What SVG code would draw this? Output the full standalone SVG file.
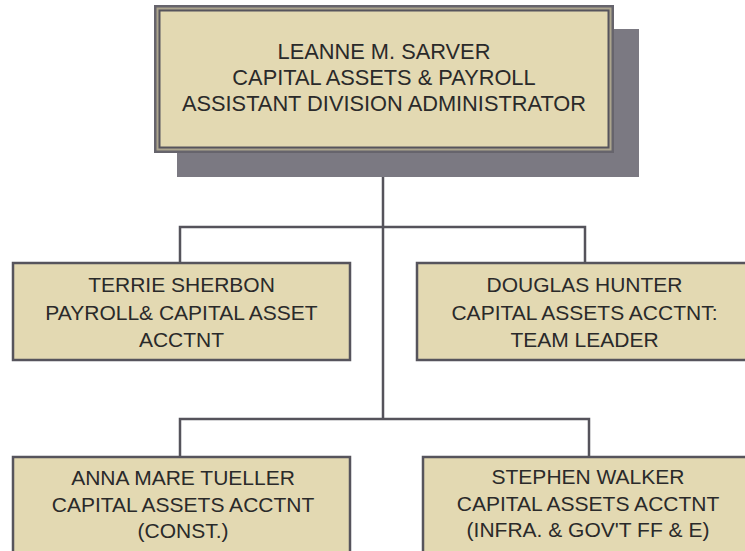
<svg xmlns="http://www.w3.org/2000/svg" width="745" height="551" viewBox="0 0 745 551">
<style>
.box{fill:#e3d9b2;stroke:#56545c;stroke-width:2.5}
.t{font-family:"Liberation Sans",Arial,sans-serif;font-size:21px;fill:#2a2a2a;text-anchor:middle}
.tt{font-size:21.8px}
.c{fill:none;stroke:#55535b;stroke-width:2.5}
</style>
<rect width="745" height="551" fill="#ffffff"/>
<g id="connectors">
<path class="c" d="M383 153V419"/>
<path class="c" d="M180 262V227H585V262"/>
<path class="c" d="M180 456V419H589V456"/>
</g>
<g id="sarver">
<rect x="177" y="29" width="462" height="148" fill="#7b7982"/>
<rect x="155.25" y="6.25" width="457.5" height="145.5" fill="#aca58e" stroke="#66646c" stroke-width="2.5"/>
<rect x="159.5" y="10.5" width="449" height="137" fill="#e3d9b2" stroke="#56545c" stroke-width="2"/>
<text class="t tt" x="384" y="59">LEANNE M. SARVER</text>
<text class="t tt" x="384" y="85">CAPITAL ASSETS &amp; PAYROLL</text>
<text class="t tt" x="384" y="110.5">ASSISTANT DIVISION ADMINISTRATOR</text>
</g>
<g id="sherbon">
<rect class="box" x="13" y="263" width="337" height="97"/>
<text class="t" x="181.5" y="291.5">TERRIE SHERBON</text>
<text class="t" x="181.5" y="319.5">PAYROLL&amp; CAPITAL ASSET</text>
<text class="t" x="181.5" y="346.5">ACCTNT</text>
</g>
<g id="hunter">
<rect class="box" x="417" y="263" width="340" height="97"/>
<text class="t" x="584.5" y="291.5">DOUGLAS HUNTER</text>
<text class="t" x="584.5" y="319.5">CAPITAL ASSETS ACCTNT:</text>
<text class="t" x="584.5" y="346.5">TEAM LEADER</text>
</g>
<g id="tueller">
<rect class="box" x="13" y="457" width="337" height="100"/>
<text class="t" x="183" y="485">ANNA MARE TUELLER</text>
<text class="t" x="183" y="511.5">CAPITAL ASSETS ACCTNT</text>
<text class="t" x="183" y="538">(CONST.)</text>
</g>
<g id="walker">
<rect class="box" x="423" y="457" width="336" height="100"/>
<text class="t" x="588" y="484">STEPHEN WALKER</text>
<text class="t" x="588" y="510.5">CAPITAL ASSETS ACCTNT</text>
<text class="t" x="588" y="537">(INFRA. &amp; GOV'T FF &amp; E)</text>
</g>
</svg>
